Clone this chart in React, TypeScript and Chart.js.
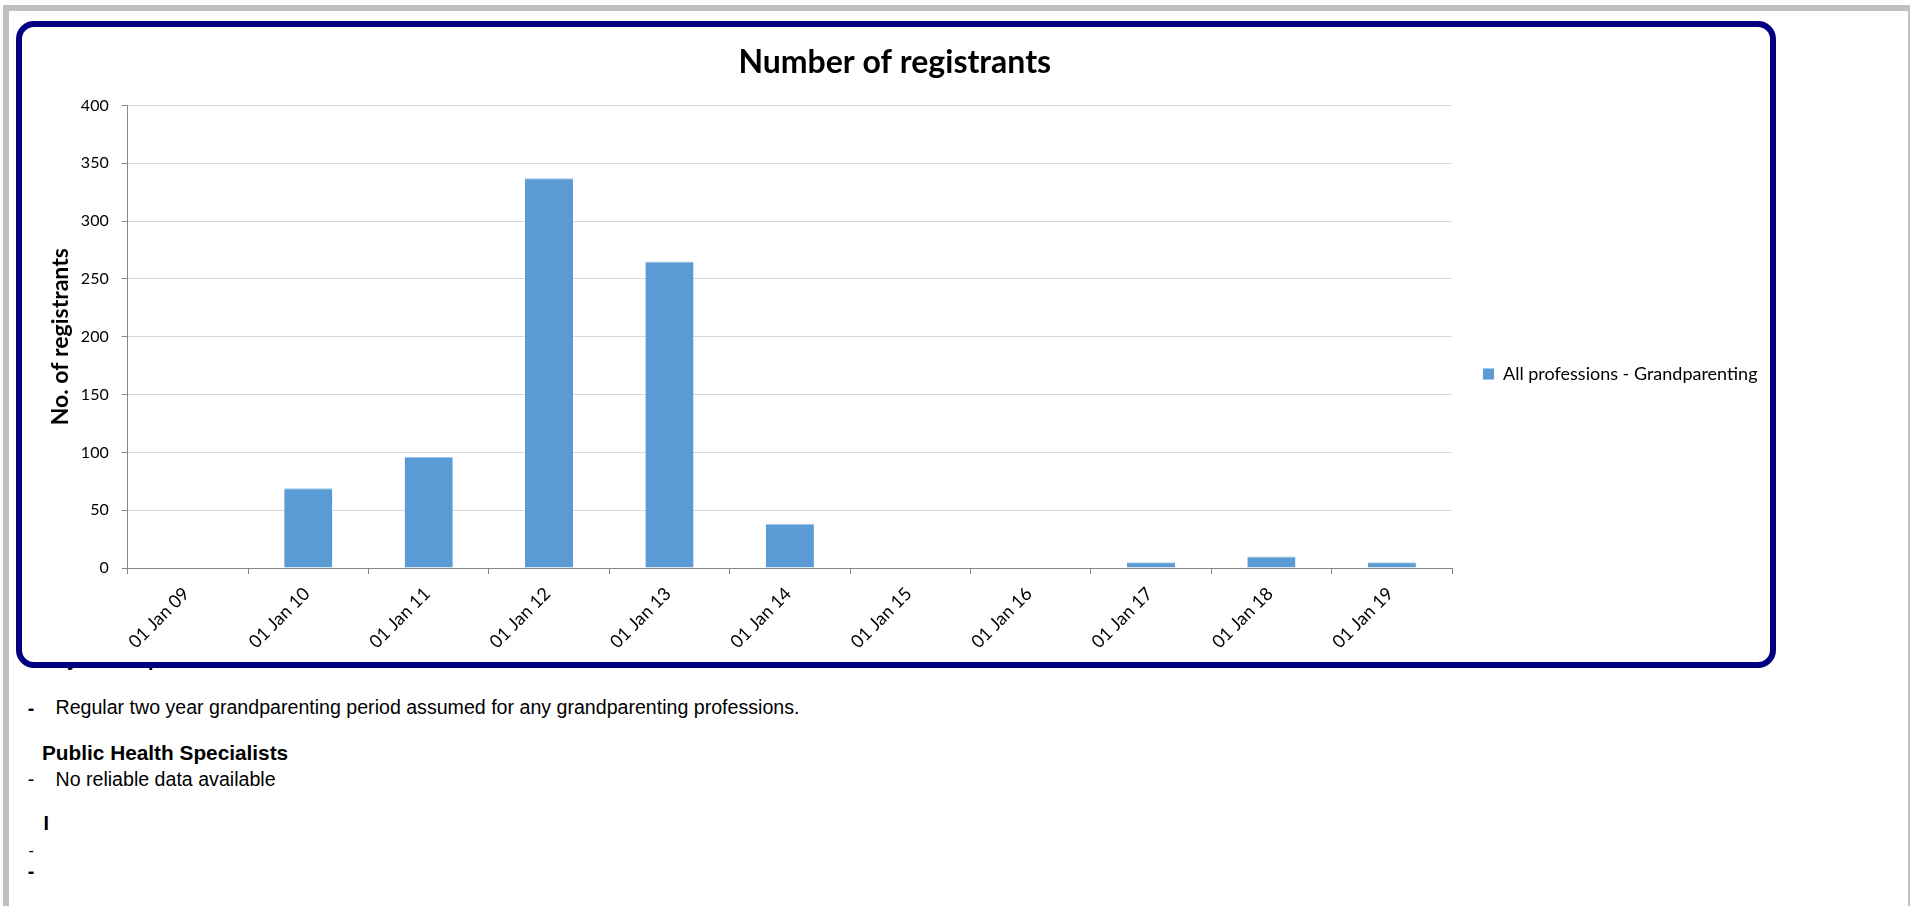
import React, { useEffect, useRef } from 'react';
import { Chart, registerables } from 'chart.js';

Chart.register(...registerables);

// ---- data ----
const categories = [
  '01 Jan 09', '01 Jan 10', '01 Jan 11', '01 Jan 12', '01 Jan 13', '01 Jan 14',
  '01 Jan 15', '01 Jan 16', '01 Jan 17', '01 Jan 18', '01 Jan 19',
];
const registrants = [0, 69, 96, 337, 265, 38, 0, 0, 5, 10, 5];
const seriesLabel = 'All professions - Grandparenting';
const chartTitle = 'Number of registrants';
const yAxisTitle = 'No. of registrants';
const yMin = 0;
const yMax = 400;
const yStep = 50;

// ---- layout ----
const CANVAS_LEFT = 22;
const CANVAS_TOP = 27;
const CANVAS_W = 1748;
const CANVAS_H = 694;
const Y_AXIS_W = 105.7;
const PLOT_RIGHT = 1430;
const X_AXIS_H = 153;
const LEGEND_PAD = 31;
const LEGEND_BOX = 11;
const LEGEND_FONT = 18;
const FONT = 'Lato';

function BarChart() {
  const ref = useRef<HTMLCanvasElement>(null);
  useEffect(() => {
    const canvas = ref.current!;
    const mctx = canvas.getContext('2d')!;
    mctx.font = `${LEGEND_FONT}px ${FONT}`;
    const tw = mctx.measureText(seriesLabel).width;
    const legendW = LEGEND_PAD + LEGEND_BOX + LEGEND_FONT / 2 + tw + 10;
    const padRight = Math.max(0, CANVAS_W - PLOT_RIGHT - legendW);

    const chart = new Chart(canvas, {
      type: 'bar',
      data: {
        labels: categories,
        datasets: [
          {
            label: seriesLabel,
            data: registrants,
            backgroundColor: '#5B9BD5',
            borderColor: '#9DC3E6',
            borderWidth: { top: 1, left: 0, right: 0, bottom: 0 },
            barPercentage: 0.4,
            categoryPercentage: 1.0,
          },
        ],
      },
      options: {
        animation: false,
        responsive: false,
        maintainAspectRatio: false,
        layout: { padding: { left: 0, right: padRight, top: 0, bottom: 0 } },
        plugins: {
          title: {
            display: true,
            text: chartTitle,
            color: '#000',
            font: { family: FONT, size: 32, weight: 'bold' },
            padding: { top: 16.2, bottom: 23.9 },
          },
          legend: {
            position: 'right',
            align: 'center',
            labels: {
              boxWidth: LEGEND_BOX,
              boxHeight: LEGEND_BOX,
              padding: LEGEND_PAD,
              color: '#000',
              font: { family: FONT, size: LEGEND_FONT },
            },
          },
          tooltip: { enabled: false },
        },
        scales: {
          x: {
            offset: true,
            grid: {
              display: true,
              drawOnChartArea: false,
              drawTicks: true,
              tickLength: 6,
              tickColor: '#868686',
              offset: true,
            },
            border: { display: true, color: '#868686', width: 1 },
            ticks: {
              autoSkip: false,
              minRotation: 45,
              maxRotation: 45,
              padding: 9,
              labelOffset: -1.5,
              color: '#000',
              font: { family: FONT, size: 18 },
            },
            afterFit: (s: any) => {
              s.height = X_AXIS_H;
            },
          },
          y: {
            min: yMin,
            max: yMax,
            ticks: {
              stepSize: yStep,
              padding: 13,
              color: '#000',
              font: { family: FONT, size: 16 },
            },
            grid: {
              color: '#d9d9d9',
              tickColor: '#868686',
              tickLength: 6,
            },
            border: { display: true, color: '#868686', width: 1 },
            title: {
              display: true,
              text: yAxisTitle,
              color: '#000',
              font: { family: FONT, size: 23, weight: 'bold' },
              padding: { top: 24.4, bottom: 0 },
            },
            afterFit: (s: any) => {
              s.width = Y_AXIS_W;
            },
          },
        },
      },
    } as any);
    return () => chart.destroy();
  }, []);
  return (
    <canvas
      ref={ref}
      width={CANVAS_W}
      height={CANVAS_H}
      style={{
        position: 'absolute',
        left: CANVAS_LEFT,
        top: CANVAS_TOP,
        width: CANVAS_W,
        height: CANVAS_H,
        zIndex: 3,
      }}
    />
  );
}

function Txt(props: { x: number; baseline: number; size?: number; bold?: boolean; children: any }) {
  const size = props.size ?? 19.6;
  return (
    <div
      style={{
        position: 'absolute',
        left: props.x,
        top: props.baseline - 0.8465 * size,
        fontFamily: '"Liberation Sans", Arial, sans-serif',
        fontSize: size,
        lineHeight: `${size}px`,
        fontWeight: props.bold ? 700 : 400,
        whiteSpace: 'nowrap',
        color: '#000',
        zIndex: 1,
      }}
    >
      {props.children}
    </div>
  );
}

export default function App() {
  return (
    <div
      style={{
        position: 'absolute',
        left: 0,
        top: 0,
        width: 1910,
        height: 906,
        overflow: 'hidden',
        background: '#fff',
      }}
    >
      <div
        style={{
          position: 'absolute',
          left: 3,
          top: 5,
          width: 1911,
          height: 1000,
          border: '6px solid #c0c0c0',
          boxSizing: 'border-box',
          background: '#fff',
        }}
      />
      <Txt x={42} baseline={666.4} bold>Key Assumptions</Txt>
      <Txt x={27.8} baseline={715.7} bold>-</Txt>
      <Txt x={55.5} baseline={714.5}>Regular two year grandparenting period assumed for any grandparenting professions.</Txt>
      <Txt x={42} baseline={760.5} size={20.8} bold>Public Health Specialists</Txt>
      <Txt x={27.8} baseline={787}>-</Txt>
      <Txt x={55.5} baseline={787}>No reliable data available</Txt>
      <Txt x={43.6} baseline={830.5} bold>I</Txt>
      <Txt x={28.4} baseline={856.1} size={16}>-</Txt>
      <Txt x={27.8} baseline={879} bold>-</Txt>
      <div
        style={{
          position: 'absolute',
          left: 16,
          top: 21,
          width: 1760,
          height: 647,
          border: '6px solid #000080',
          borderRadius: 18,
          boxSizing: 'border-box',
          background: '#fff',
          zIndex: 2,
        }}
      />
      <BarChart />
    </div>
  );
}
